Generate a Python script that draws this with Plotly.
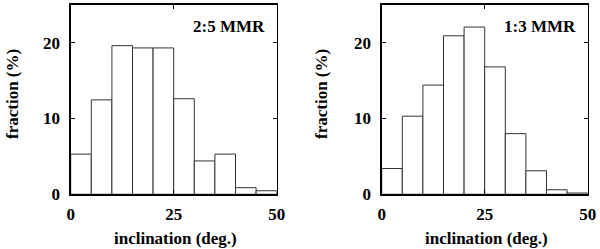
import plotly.graph_objects as go

# ---- data ----
bin_left = [0, 5, 10, 15, 20, 25, 30, 35, 40, 45]
bin_width = 5
frac_25 = [5.3, 12.45, 19.6, 19.3, 19.3, 12.6, 4.4, 5.3, 0.87, 0.47]
frac_13 = [3.4, 10.3, 14.4, 20.9, 22.05, 16.8, 8.0, 3.1, 0.6, 0.17]
labels = ["2:5 MMR", "1:3 MMR"]
x_ticks = [0, 25, 50]
y_ticks = [0, 10, 20]

W, H = 600, 249
FONT = "Liberation Serif"
FS = 17

fig = go.Figure()
series = [frac_25, frac_13]
for i, vals in enumerate(series):
    sfx = "" if i == 0 else "2"
    fig.add_trace(go.Bar(
        x=bin_left, y=vals, width=[bin_width] * len(bin_left), offset=0,
        marker=dict(color="white", line=dict(color="#333333", width=1)),
        xaxis="x" + sfx, yaxis="y" + sfx, showlegend=False, hoverinfo="skip",
    ))

def px_x(p):
    return p / W

def px_y(p):
    return 1 - p / H

xdoms = [(70.7, 276.7), (381.7, 587.7)]
ydom = [px_y(194.3), px_y(4.7)]

axis_common = dict(
    showline=True, linecolor="black", linewidth=1.3, mirror="ticks",
    ticks="inside", ticklen=4, tickcolor="black", tickwidth=1,
    showgrid=False, zeroline=False, automargin=False,
    tickfont=dict(family=FONT, size=FS, color="black", weight="bold"),
)

layout = dict(
    width=W, height=H, autosize=False, margin=dict(l=0, r=0, t=0, b=0, pad=0),
    plot_bgcolor="white", paper_bgcolor="white",
    bargap=0, showlegend=False,
    font=dict(family=FONT, color="black"),
)
for i in range(2):
    sfx = "" if i == 0 else "2"
    layout["xaxis" + sfx] = dict(
        axis_common, domain=[px_x(xdoms[i][0]), px_x(xdoms[i][1])],
        range=[0, 50], tickvals=x_ticks, anchor="y" + sfx,
        ticklabelstandoff=4,
    )
    layout["yaxis" + sfx] = dict(
        axis_common, domain=ydom, range=[0, 25], tickvals=y_ticks,
        anchor="x" + sfx, ticklabelstandoff=6,
    )
fig.update_layout(**layout)

anns = []
ytitle_x = [12, 321]
for i in range(2):
    x0, x1 = xdoms[i]
    anns.append(dict(
        text=labels[i], xref="paper", yref="paper",
        x=px_x(x1 - 10), y=px_y(26.7), xanchor="right", yanchor="middle",
        showarrow=False, font=dict(family=FONT, size=FS, color="black", weight="bold"),
    ))
    anns.append(dict(
        text="inclination (deg.)", xref="paper", yref="paper",
        x=px_x((x0 + x1) / 2 + 2), y=px_y(238), xanchor="center", yanchor="middle",
        showarrow=False, font=dict(family=FONT, size=FS, color="black", weight="bold"),
    ))
    anns.append(dict(
        text="fraction (%)", xref="paper", yref="paper", textangle=-90,
        x=px_x(ytitle_x[i]), y=px_y(94), xanchor="center", yanchor="middle",
        showarrow=False, font=dict(family=FONT, size=FS, color="black", weight="bold"),
    ))
fig.update_layout(annotations=anns)

post = (
    "document.body.style.margin='0';"
    "document.body.style.overflow='hidden';"
    "var gd=document.getElementById('{plot_id}');"
    "Plotly.relayout(gd,{width:%d,height:%d});" % (W, H)
)
fig.write_html(
    "out.html",
    config={"responsive": False, "displayModeBar": False, "staticPlot": True},
    post_script=post,
)
